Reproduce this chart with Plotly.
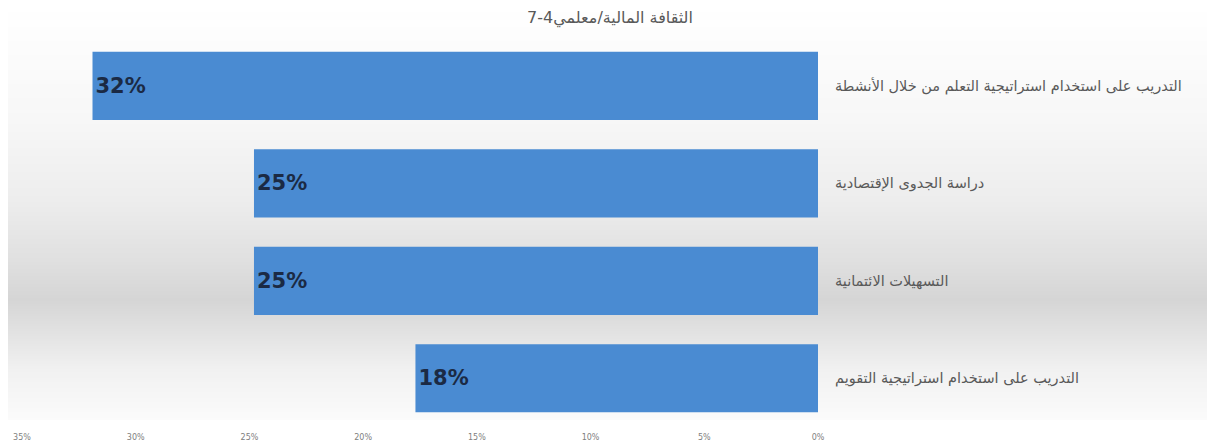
import plotly.graph_objects as go

categories = [
    "التدريب على استخدام استراتيجية التعلم من خلال الأنشطة",
    "دراسة الجدوى الإقتصادية",
    "التسهيلات الائتمانية",
    "التدريب على استخدام استراتيجية التقويم",
]
values = [0.319, 0.248, 0.248, 0.177]
title_text = "الثقافة المالية/معلمي4-7"

OFF = 8  # page body margin
W, H = 1215 - OFF, 445 - OFF
# plot area in page pixels
L, R, T, B = 22, 818, 37, 427

def py(p):
    return (B - p) / (B - T)

def px(p):
    return (p - L) / (R - L)

# background gradient (vertical), approximated by one band per pixel row (page pixels)
stops = [(5, 255), (120, 247), (200, 237), (260, 224), (300, 213), (330, 225), (370, 241), (420, 251)]
shapes = []
y0p, y1p = 8, 420
def shade(yp):
    for (a, ca), (b, cb) in zip(stops[:-1], stops[1:]):
        if a <= yp <= b:
            t = (yp - a) / (b - a)
            return round(ca + (cb - ca) * t)
    return 255
# merge consecutive rows of equal shade
row = y0p
while row < y1p:
    c = shade(row + 0.5)
    end = row + 1
    while end < y1p and shade(end + 0.5) == c:
        end += 1
    shapes.append(dict(type="rect", xref="paper", yref="paper",
                       x0=px(8), x1=px(1213), y0=py(end), y1=py(row),
                       fillcolor=f"rgb({c},{c},{c})", line=dict(width=0), layer="below"))
    row = end

fig = go.Figure(go.Bar(
    x=values, y=categories, orientation="h",
    width=0.7,
    marker=dict(color="#4a8bd2", line=dict(width=0)),
    text=values, texttemplate="%{x:.0%}",
    textposition="inside", insidetextanchor="end",
    textfont=dict(family="DejaVu Sans", size=21, color="#1b2a44", weight="bold"),
    hoverinfo="skip",
))

fig.update_layout(
    width=W, height=H,
    margin=dict(l=L - OFF, r=(W + OFF) - R, t=T - OFF, b=(H + OFF) - B),
    paper_bgcolor="white", plot_bgcolor="rgba(0,0,0,0)",
    showlegend=False,
    shapes=shapes,
    title=dict(text=title_text, x=(610 - OFF) / W, xref="container",
               y=1 - (17 - OFF) / H, yref="container",
               xanchor="center", yanchor="middle",
               font=dict(family="DejaVu Sans", size=16, color="#595959")),
    xaxis=dict(range=[0.35, 0], tickformat=".0%", dtick=0.05, showgrid=False,
               zeroline=False, showline=False, ticks="", ticklabelstandoff=4,
               automargin=False,
               tickfont=dict(family="DejaVu Sans", size=8, color="#808080")),
    yaxis=dict(side="right", autorange="reversed", showgrid=False, zeroline=False,
               showline=False, ticks="", ticklabelstandoff=16, automargin=False,
               tickfont=dict(family="DejaVu Sans", size=14.5, color="#595959")),
)

fig.write_html("out.html")
